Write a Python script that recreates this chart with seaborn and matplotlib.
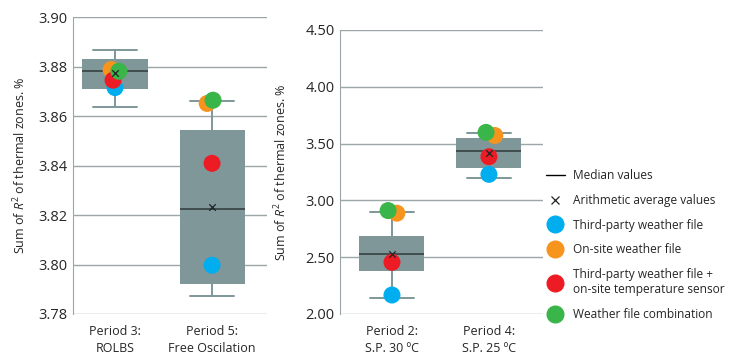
import numpy as np
import pandas as pd
import matplotlib.pyplot as plt
import seaborn as sns
from matplotlib.lines import Line2D

sns.set_style('white')
plt.rcParams['font.family'] = ['Open Sans', 'DejaVu Sans']
plt.rcParams['mathtext.fontset'] = 'custom'
plt.rcParams['mathtext.rm'] = 'Open Sans'
plt.rcParams['mathtext.it'] = 'Open Sans:italic'

# ---- data ----
left_periods = ['Period 3:\nROLBS', 'Period 5:\nFree Oscilation']
left_q1 = [3.8708, 3.7923]
left_q3 = [3.8829, 3.8543]
left_med = [3.8781, 3.8223]
left_mean = [3.8772, 3.8234]
left_wlo = [3.8636, 3.7874]
left_whi = [3.8866, 3.8661]
left_blue = [3.8715, 3.7997]
left_orange = [3.8788, 3.8651]
left_red = [3.8745, 3.8409]
left_green = [3.8781, 3.8664]

right_periods = ['Period 2:\nS.P. 30 ºC', 'Period 4:\nS.P. 25 ºC']
right_q1 = [2.381, 3.283]
right_q3 = [2.6875, 3.545]
right_med = [2.53, 3.43]
right_mean = [2.524, 3.42]
right_wlo = [2.143, 3.20]
right_whi = [2.90, 3.592]
right_blue = [2.167, 3.229]
right_orange = [2.887, 3.571]
right_red = [2.455, 3.384]
right_green = [2.91, 3.598]

series_names = ['Third-party weather file', 'On-site weather file',
                'Third-party weather file +\non-site temperature sensor',
                'Weather file combination']
colors = ['#00aeef', '#f7941d', '#ed1c24', '#39b54a']

# small horizontal offsets of points (layout only)
left_offsets = [[0.0, -0.04, -0.02, 0.04], [0.0, -0.05, 0.0, 0.01]]
right_offsets = [[0.0, 0.05, 0.0, -0.04], [0.0, 0.06, 0.0, -0.03]]

box_color = '#7f9799'
grid_color = '#9aa6a8'


def panel(ax, periods, q1, q3, med, mean, wlo, whi, vals, offsets, ylim, yticks):
    stats = []
    for i in range(len(periods)):
        stats.append(dict(q1=q1[i], q3=q3[i], med=med[i], mean=mean[i],
                          whislo=wlo[i], whishi=whi[i], fliers=[]))
    ax.bxp(stats, positions=range(len(periods)), widths=0.67, patch_artist=True,
           showmeans=False, showfliers=False,
           boxprops=dict(facecolor=box_color, edgecolor=box_color, linewidth=0),
           whiskerprops=dict(color=box_color, linewidth=1.4),
           capprops=dict(color=box_color, linewidth=1.4),
           capwidths=0.45,
           medianprops=dict(color='#3b4849', linewidth=1.3), zorder=2)
    rows = []
    for s, v in enumerate(vals):
        for i in range(len(periods)):
            rows.append(dict(x=i + offsets[i][s], y=v[i], series=series_names[s]))
    df = pd.DataFrame(rows)
    sns.scatterplot(data=df, x='x', y='y', hue='series', palette=colors,
                    hue_order=series_names, s=150, linewidth=0, alpha=1,
                    legend=False, ax=ax, zorder=3)
    ax.scatter(range(len(periods)), mean, marker='x', color='#222222', s=22,
               linewidths=0.9, zorder=4)
    ax.set_ylim(*ylim)
    ax.set_yticks(yticks)
    ax.set_yticklabels([f'{t:.2f}' for t in yticks], fontsize=10.5)
    ax.set_xticks(range(len(periods)))
    ax.set_xticklabels(periods, fontsize=9, linespacing=1.4)
    ax.set_xlabel('')
    ax.set_ylabel(r'Sum of $R^2$ of thermal zones. %', fontsize=9)
    ax.grid(axis='y', color=grid_color, linewidth=1)
    ax.set_axisbelow(True)
    for sp in ['top', 'right', 'bottom']:
        ax.spines[sp].set_visible(False)
    ax.spines['left'].set_color(grid_color)
    ax.tick_params(length=0, pad=4)
    ax.tick_params(axis='x', pad=8)


fig = plt.figure(figsize=(7.38, 3.56), dpi=100)
ax1 = fig.add_axes([0.0989, 0.118, 0.263, 0.834])
ax2 = fig.add_axes([0.4607, 0.118, 0.275, 0.798])

panel(ax1, left_periods, left_q1, left_q3, left_med, left_mean, left_wlo, left_whi,
      [left_blue, left_orange, left_red, left_green], left_offsets,
      (3.78, 3.90), [3.78, 3.80, 3.82, 3.84, 3.86, 3.88, 3.90])
ax1.set_xlim(-0.433, 1.567)
ax1.yaxis.set_label_coords(-0.23, 0.5)

panel(ax2, right_periods, right_q1, right_q3, right_med, right_mean, right_wlo, right_whi,
      [right_blue, right_orange, right_red, right_green], right_offsets,
      (2.0, 4.5), [2.0, 2.5, 3.0, 3.5, 4.0, 4.5])
ax2.set_xlim(-0.536, 1.557)
ax2.yaxis.set_label_coords(-0.25, 0.5)

handles = [Line2D([], [], color='black', linewidth=1),
           Line2D([], [], color='#222222', marker='x', linestyle='none',
                  markersize=6, markeredgewidth=0.9)]
handles += [Line2D([], [], color=c, marker='o', linestyle='none', markersize=12) for c in colors]
labels = ['Median values', 'Arithmetic average values'] + series_names
fig.legend(handles, labels, loc='upper left', bbox_to_anchor=(0.733, 0.538),
           frameon=False, fontsize=8.6, handlelength=1.6, handletextpad=0.7,
           labelspacing=0.98, borderaxespad=0)

fig.savefig('out.png', dpi=100)
